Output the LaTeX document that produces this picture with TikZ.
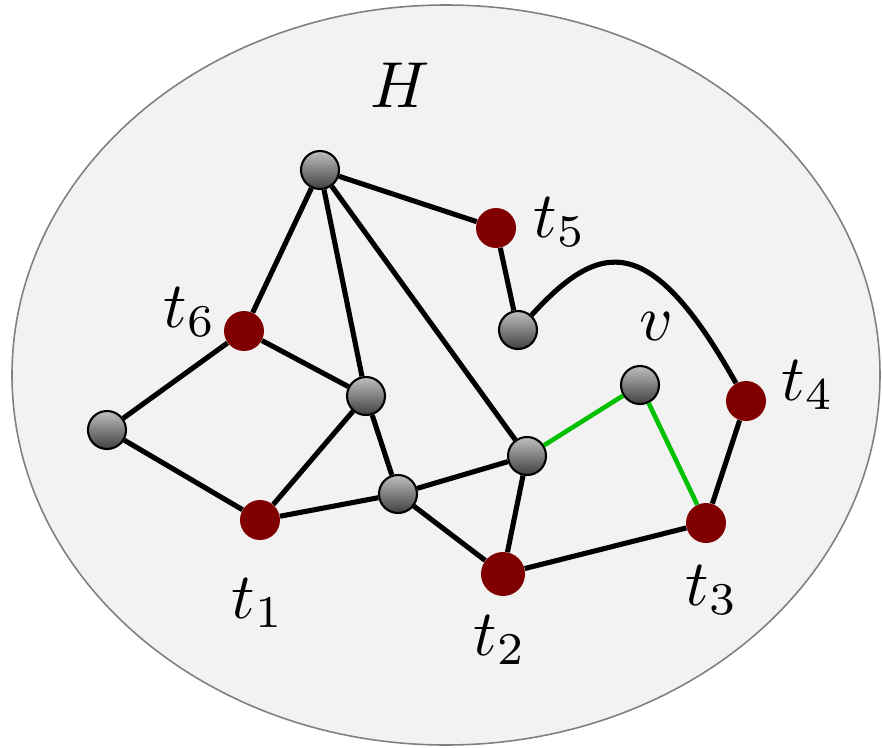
\documentclass[tikz,border=0pt]{standalone}
\usepackage{graphicx}
\usepackage{tikz}
\usetikzlibrary{positioning}

\definecolor{termred}{RGB}{128,0,0}
\definecolor{pathgreen}{RGB}{0,192,0}
\definecolor{regionfill}{RGB}{242,242,242}

\newcommand{\biglbl}[1]{\scalebox{3.7}{$#1$}}

\begin{document}
\begin{tikzpicture}[
  x=0.02cm, y=-0.02cm,
  vertex/.style={circle, draw=black, line width=1.2pt, top color=black!25, bottom color=black!75, minimum size=0.76cm, inner sep=0pt},
  terminal/.style={circle, fill=termred, minimum size=0.8cm, inner sep=0pt},
  lbl/.style={inner sep=0pt},
  edge/.style={line width=2.9pt},
  greenedge/.style={line width=2.6pt, draw=pathgreen}
]
  \useasboundingbox (0,0) rectangle (882,747);
  \draw[draw=black!50, line width=0.9pt, fill=regionfill] (446,375) ellipse [x radius=434, y radius=370];

  % vertices
  \node[vertex] (top) at (320,170) {};
  \node[vertex] (mid) at (518,330) {};
  \node[vertex] (left) at (107,430) {};
  \node[vertex] (cen) at (366,396) {};
  \node[vertex] (low) at (398,494) {};
  \node[vertex] (rgt) at (527,456) {};
  \node[vertex] (v) at (640,385) {};

  % terminals
  \node[terminal] (t1) at (260,520) {};
  \node[terminal, minimum width=0.88cm] (t2) at (503,574) {};
  \node[terminal] (t3) at (706,523) {};
  \node[terminal] (t4) at (746,401) {};
  \node[terminal] (t5) at (496,228) {};
  \node[terminal] (t6) at (244,331) {};

  % labels
  \node[lbl] (Hlab) at (400,85) {\biglbl{H}};
  \node[lbl] (t1lab) at (258,603) {\biglbl{t_1}};
  \node[lbl] (t2lab) at (500,640) {\biglbl{t_2}};
  \node[lbl] (t3lab) at (712,590) {\biglbl{t_3}};
  \node[lbl] (t4lab) at (808,385) {\biglbl{t_4}};
  \node[lbl] (t5lab) at (560,222) {\biglbl{t_5}};
  \node[lbl] (t6lab) at (190,312) {\biglbl{t_6}};
  \node[lbl] (vlab) at (656,326) {\biglbl{v}};

  \draw[edge] (top) -- (t5);
  \draw[edge] (top) -- (t6);
  \draw[edge] (top) -- (cen);
  \draw[edge] (top) -- (rgt);
  \draw[edge] (t5) -- (mid);
  \draw[edge] (mid) .. controls (600,240) and (650,230) .. (t4);
  \draw[edge] (t6) -- (left);
  \draw[edge] (t6) -- (cen);
  \draw[edge] (left) -- (t1);
  \draw[edge] (t1) -- (cen);
  \draw[edge] (t1) -- (low);
  \draw[edge] (cen) -- (low);
  \draw[edge] (low) -- (rgt);
  \draw[edge] (low) -- (t2);
  \draw[edge] (rgt) -- (t2);
  \draw[edge] (t2) -- (t3);
  \draw[edge] (t3) -- (t4);
  \draw[greenedge] (rgt) -- (v);
  \draw[greenedge] (v) -- (t3);
\end{tikzpicture}
\end{document}
